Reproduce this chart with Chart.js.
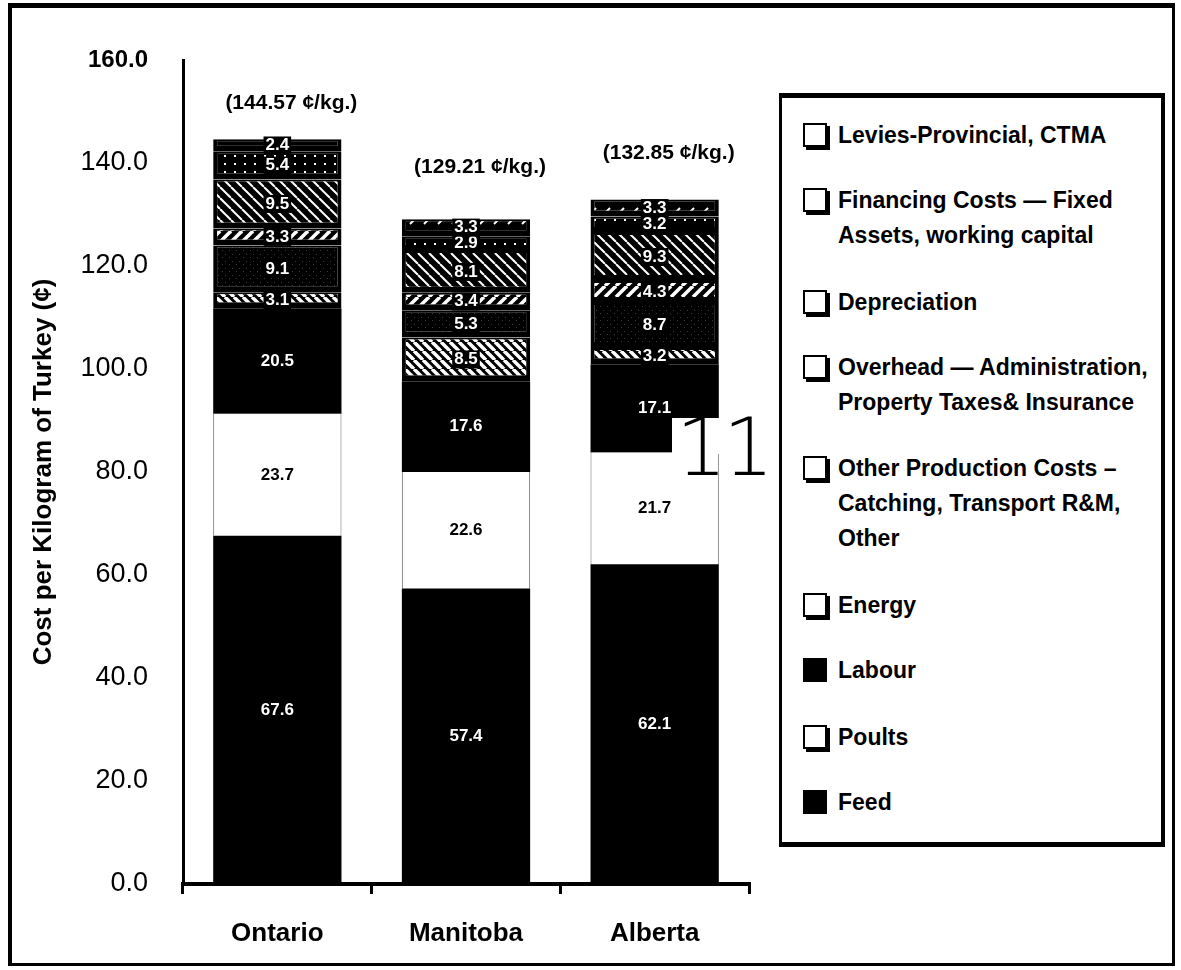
<!DOCTYPE html>
<html>
<head>
<meta charset="utf-8">
<script src="https://cdn.jsdelivr.net/npm/chart.js@4.4.0/dist/chart.umd.min.js"></script>
<style>
    body { margin: 0; background: #fff; font-family: "Liberation Sans", Arial, sans-serif; }
    #wrap { position: relative; width: 1181px; height: 970px; overflow: hidden; }
    #frame {
        position: absolute; left: 8px; top: 3px; width: 1167px; height: 963px; box-sizing: border-box;
        border-top: 5px solid #000; border-left: 4px solid #000; border-right: 3px solid #000; border-bottom: 3px solid #000;
    }
    #legend {
        position: absolute; left: 779px; top: 93px; width: 386px; height: 754px; box-sizing: border-box;
        border-top: 5px solid #000; border-right: 4px solid #000; border-bottom: 5px solid #000; border-left: 3px solid #000;
        background: #fff;
    }
    .box { position: absolute; left: 21px; width: 20px; height: 20px; border: 2px solid #000; background: #fff; box-shadow: 3px 3px 0 #000; }
    .box.filled { width: 24px; height: 24px; border: 0; background: #000; box-shadow: none; }
    .line { position: absolute; left: 56px; height: 28px; line-height: 28px; font-size: 23px; font-weight: bold; white-space: nowrap; }
    #scanmark {
        position: absolute; left: 676px; top: 408px; font-family: "DejaVu Sans", sans-serif; font-weight: 200;
        font-size: 80px; line-height: 80px; letter-spacing: -4px;
    }
    #scanpatch { position: absolute; left: 672px; top: 418px; width: 100px; height: 36px; background: #fff; }
</style>
</head>
<body>
<div id="wrap">
    <canvas id="costChart" width="1181" height="970"></canvas>
    <div id="frame"></div>
    <div id="legend"></div>
    <div id="scanpatch"></div>
    <div id="scanmark">11</div>
</div>
<script>
// provinces and cost per kg (cents), bottom of stack first
const regions = ["Ontario", "Manitoba", "Alberta"];
const totals = [144.57, 129.21, 132.85];
const feed = [67.6, 57.4, 62.1];
const poults = [23.7, 22.6, 21.7];
const labour = [20.5, 17.6, 17.1];
const energy = [3.1, 8.5, 3.2];
const otherProduction = [9.1, 5.3, 8.7];
const overhead = [3.3, 3.4, 4.3];
const depreciation = [9.5, 8.1, 9.3];
const financing = [5.4, 2.9, 3.2];
const levies = [2.4, 3.3, 3.3];
const yTicks = [0, 20, 40, 60, 80, 100, 120, 140, 160];

// legend text as printed (wrapped lines)
const feedLines = ["Feed"];
const poultsLines = ["Poults"];
const labourLines = ["Labour"];
const energyLines = ["Energy"];
const otherLines = ["Other Production Costs –", "Catching, Transport R&M,", "Other"];
const overheadLines = ["Overhead — Administration,", "Property Taxes& Insurance"];
const depreciationLines = ["Depreciation"];
const financingLines = ["Financing Costs — Fixed", "Assets, working capital"];
const leviesLines = ["Levies-Provincial,  CTMA"];

const FONT = '"Liberation Sans", Arial, sans-serif';

function makePattern(w, h, draw) {
    const c = document.createElement("canvas");
    c.width = w;
    c.height = h;
    const g = c.getContext("2d");
    g.fillStyle = "#000";
    g.fillRect(0, 0, w, h);
    g.strokeStyle = "#fff";
    g.fillStyle = "#fff";
    draw(g, w, h);
    return g.createPattern(c, "repeat");
}

function backslash(lw) {
    return (g, w, h) => {
        g.lineWidth = lw;
        [[-w, 0], [0, 0], [w, 0]].forEach(([dx]) => {
            g.beginPath();
            g.moveTo(dx, 0);
            g.lineTo(dx + w, h);
            g.stroke();
        });
    };
}

function slash(lw) {
    return (g, w, h) => {
        g.lineWidth = lw;
        [-w, 0, w].forEach(dx => {
            g.beginPath();
            g.moveTo(dx, h);
            g.lineTo(dx + w, 0);
            g.stroke();
        });
    };
}

const leviesFill = makePattern(14, 12, (g) => {
    g.lineWidth = 2;
    g.beginPath();
    g.moveTo(4, 8);
    g.lineTo(8, 4);
    g.stroke();
});
const financingFill = makePattern(10, 8, (g) => {
    g.fillRect(4, 3, 2, 2);
});
const depreciationFill = makePattern(11, 11, backslash(2));
const overheadFill = makePattern(11, 11, slash(3.5));
const otherFill = makePattern(7, 7, (g) => {
    g.fillStyle = "#3a3a3a";
    g.fillRect(1, 2, 1, 1);
    g.fillRect(5, 5, 1, 1);
});
const energyFill = makePattern(9, 9, backslash(3.5));

const bandBorder = { top: 2, bottom: 6, left: 4, right: 4 };

function band(label, data, fill, border) {
    return {
        label: label,
        data: data,
        backgroundColor: fill,
        borderColor: label === "Poults" ? "#666" : "#000",
        borderWidth: border,
        borderSkipped: false,
        barPercentage: 0.68,
        categoryPercentage: 1.0
    };
}

const datasets = [
    band(feedLines.join(" "), feed, "#000", 0),
    band("Poults", poults, "#fff", { top: 0, bottom: 0, left: 1, right: 1 }),
    band(labourLines.join(" "), labour, "#000", 0),
    band(energyLines.join(" "), energy, energyFill, bandBorder),
    band(otherLines.join(" "), otherProduction, otherFill, bandBorder),
    band(overheadLines.join(" "), overhead, overheadFill, bandBorder),
    band(depreciationLines.join(" "), depreciation, depreciationFill, bandBorder),
    band(financingLines.join(" "), financing, financingFill, bandBorder),
    band(leviesLines.join(" "), levies, leviesFill, bandBorder)
];

// value printed in each band, totals above each bar
const segmentLabels = {
    id: "segmentLabels",
    afterDatasetsDraw(chart) {
        const ctx = chart.ctx;
        ctx.save();
        ctx.textAlign = "center";
        ctx.textBaseline = "middle";
        ctx.font = "bold 17px " + FONT;
        chart.data.datasets.forEach((ds, i) => {
            chart.getDatasetMeta(i).data.forEach((bar, j) => {
                const txt = ds.data[j].toFixed(1);
                const y = (bar.y + bar.base) / 2;
                if (ds.label === "Poults") {
                    ctx.fillStyle = "#000";
                    ctx.fillText(txt, bar.x, y);
                    return;
                }
                const w = ctx.measureText(txt).width + 4;
                ctx.fillStyle = "#000";
                ctx.fillRect(bar.x - w / 2, y - 9, w, 18);
                ctx.fillStyle = "#fff";
                ctx.fillText(txt, bar.x, y);
            });
        });

        const yScale = chart.scales.y;
        const lift = [36, 51, 47];
        ctx.font = "bold 21px " + FONT;
        ctx.fillStyle = "#000";
        chart.getDatasetMeta(0).data.forEach((bar, j) => {
            ctx.fillText("(" + totals[j].toFixed(2) + " ¢/kg.)", bar.x + 14, yScale.getPixelForValue(totals[j]) - lift[j]);
        });
        ctx.restore();
    }
};

new Chart(document.getElementById("costChart"), {
    type: "bar",
    data: { labels: regions, datasets: datasets },
    options: {
        responsive: false,
        animation: false,
        devicePixelRatio: 1,
        layout: { padding: { top: 60, right: 432, bottom: 0, left: 0 } },
        plugins: {
            legend: { display: false },
            tooltip: { enabled: false }
        },
        scales: {
            x: {
                stacked: true,
                afterFit: s => { s.height = 86; },
                grid: { display: true, drawOnChartArea: false, drawTicks: true, tickLength: 10, color: "#000", lineWidth: 3, offset: true },
                border: { display: true, color: "#000", width: 4 },
                ticks: { color: "#000", padding: 24, font: { family: FONT, size: 26, weight: "bold" } }
            },
            y: {
                stacked: true,
                min: 0,
                max: 160,
                afterFit: s => { s.width = 183; },
                afterBuildTicks: s => { s.ticks = yTicks.map(v => ({ value: v })); },
                grid: { display: false, drawTicks: false, tickLength: 0 },
                border: { display: true, color: "#000", width: 3 },
                title: {
                    display: true,
                    text: "Cost per Kilogram of Turkey (¢)",
                    color: "#000",
                    padding: { top: 28, bottom: 0 },
                    font: { family: FONT, size: 26, weight: "bold" }
                },
                ticks: {
                    color: "#000",
                    padding: 35,
                    callback: v => Number(v).toFixed(1),
                    font: ctx => ctx.tick && ctx.tick.value === 160
                        ? { family: FONT, size: 24, weight: "bold" }
                        : { family: FONT, size: 27 }
                }
            }
        }
    },
    plugins: [segmentLabels]
});

// legend box on the right, listed top of stack first
const legendRows = [
    { lines: leviesLines, y: 135 },
    { lines: financingLines, y: 200 },
    { lines: depreciationLines, y: 302 },
    { lines: overheadLines, y: 367 },
    { lines: otherLines, y: 468 },
    { lines: energyLines, y: 605 },
    { lines: labourLines, y: 670, filled: true },
    { lines: poultsLines, y: 737 },
    { lines: feedLines, y: 802, filled: true }
];
const legendEl = document.getElementById("legend");
const innerTop = 98;
legendRows.forEach(row => {
    const box = document.createElement("div");
    box.className = row.filled ? "box filled" : "box";
    box.style.top = (row.y - innerTop - 12) + "px";
    legendEl.appendChild(box);
    row.lines.forEach((txt, k) => {
        const line = document.createElement("div");
        line.className = "line";
        line.textContent = txt;
        line.style.top = (row.y - innerTop - 14 + k * 35) + "px";
        legendEl.appendChild(line);
    });
});
</script>
</body>
</html>
